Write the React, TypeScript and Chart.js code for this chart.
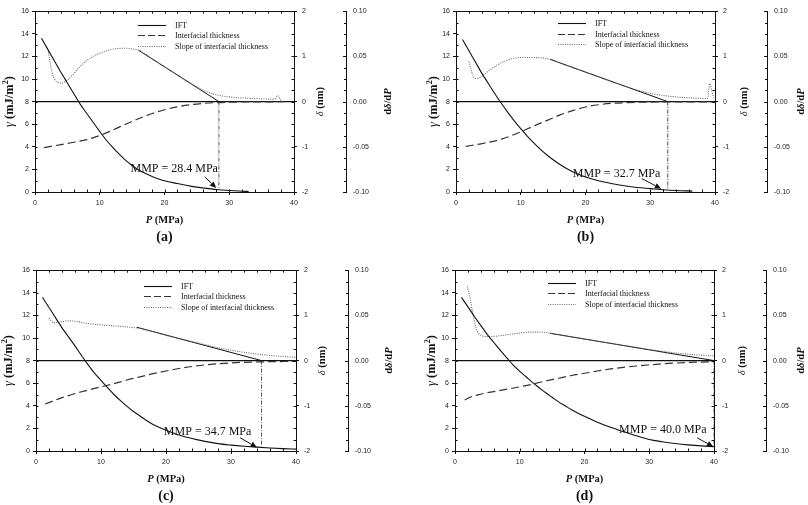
import React, { useEffect, useRef } from 'react';
import { Chart, registerables } from 'chart.js';

Chart.register(...registerables);

const SERIF = '"Liberation Serif", "Times New Roman", Times, serif';
const SANS = '"Liberation Sans", Arial, Helvetica, sans-serif';

// ---------------- data ----------------
const LEGEND_LABELS = ['IFT', 'Interfacial thickness', 'Slope of interfacial thickness'];
const PANEL_LABELS = ['(a)', '(b)', '(c)', '(d)'];
const MMP = [28.4, 32.7, 34.7, 40.0];
const MMP_DROP_END = [0.3, 0.2, 0.4, 0.4];
const ZERO_LINE_P = [0, 40];
const ZERO_LINE_DELTA = [0, 0];

// (a)
const IFT_P_A = [1, 2, 3, 4, 5, 6, 7, 8, 9, 10, 11, 12, 13, 14, 15, 16, 17, 18, 19, 20, 22, 24, 26, 28, 30, 32, 33];
const IFT_A = [13.6, 12.6, 11.6, 10.6, 9.65, 8.7, 7.75, 6.95, 6.15, 5.35, 4.6, 3.95, 3.35, 2.8, 2.35, 1.95, 1.65, 1.4, 1.18, 1.0, 0.75, 0.52, 0.36, 0.22, 0.13, 0.07, 0.05];
const THICK_P_A = [1.4, 4, 6, 8, 10, 12, 14, 16, 18, 20, 22, 24, 26, 28, 30, 34, 38.4];
const THICK_A = [-1.02, -0.95, -0.9, -0.84, -0.75, -0.63, -0.5, -0.38, -0.27, -0.18, -0.115, -0.07, -0.04, -0.022, -0.013, -0.006, -0.003];
const SLOPE_P_A = [2.06, 2.3, 2.6, 3.0, 3.6, 4.2, 5.0, 6.0, 7.0, 8.0, 9.0, 10.0, 11.0, 12.0, 13.0, 14.0, 15.0, 16.0, 18, 20, 22, 24, 26, 28, 30, 32, 34, 36, 37, 37.5, 37.9, 38.3];
const SLOPE_A = [0.0546, 0.045, 0.033, 0.025, 0.021, 0.0205, 0.024, 0.031, 0.039, 0.0455, 0.05, 0.0535, 0.056, 0.058, 0.0588, 0.059, 0.0583, 0.0568, 0.0478, 0.0386, 0.0294, 0.0205, 0.0125, 0.0075, 0.0052, 0.004, 0.0033, 0.0028, 0.0027, 0.0065, 0.002, 0];
const TANGENT_P_A = [16, 28.4];
const TANGENT_A = [0.0568, 0];

// (b)
const IFT_P_B = [1, 2, 3, 4, 5, 6, 7, 8, 9, 10, 11, 12, 13, 14, 15, 16, 17, 18, 19, 20, 22, 24, 26, 28, 30, 32, 34, 36.5];
const IFT_B = [13.5, 12.5, 11.5, 10.5, 9.6, 8.7, 7.85, 7.05, 6.3, 5.6, 4.95, 4.35, 3.8, 3.3, 2.85, 2.45, 2.1, 1.8, 1.55, 1.33, 1.0, 0.75, 0.55, 0.4, 0.3, 0.2, 0.13, 0.08];
const THICK_P_B = [1.5, 4, 7, 10, 12, 14, 16, 18, 20, 22, 24, 26, 28, 30, 34, 39.8];
const THICK_B = [-0.99, -0.93, -0.83, -0.67, -0.54, -0.42, -0.3, -0.2, -0.12, -0.07, -0.04, -0.025, -0.015, -0.01, -0.006, -0.004];
const SLOPE_P_B = [2.0, 2.3, 2.6, 2.9, 3.3, 4, 5.2, 6.5, 7.8, 9, 10.4, 12.5, 14.5, 16, 18, 20, 22, 24, 26, 28, 30, 32, 34, 36, 38, 38.8, 39.2, 39.5, 39.8];
const SLOPE_B = [0.0446, 0.036, 0.029, 0.026, 0.0255, 0.028, 0.035, 0.041, 0.0455, 0.048, 0.0488, 0.0487, 0.0468, 0.043, 0.0378, 0.0326, 0.0274, 0.0222, 0.0172, 0.0128, 0.0092, 0.0068, 0.0052, 0.0042, 0.0035, 0.0032, 0.02, 0.012, 0.004];
const TANGENT_P_B = [14.5, 32.7];
const TANGENT_B = [0.0468, 0];

// (c)
const IFT_P_C = [1, 2, 3, 4, 5, 6, 7, 8, 9, 10, 11, 12, 13, 14, 15, 16, 17, 18, 19, 20, 22, 24, 26, 28, 30, 32, 34, 36, 38, 40];
const IFT_C = [13.6, 12.7, 11.8, 10.9, 10.1, 9.3, 8.45, 7.65, 6.9, 6.25, 5.6, 5.0, 4.45, 3.95, 3.5, 3.1, 2.7, 2.35, 2.08, 1.85, 1.42, 1.1, 0.85, 0.65, 0.52, 0.42, 0.34, 0.27, 0.21, 0.17];
const THICK_P_C = [1.4, 4, 7, 10, 12, 14, 16, 18, 20, 22, 24, 26, 28, 30, 32, 34, 36, 38, 40];
const THICK_C = [-0.96, -0.82, -0.69, -0.58, -0.51, -0.43, -0.36, -0.29, -0.23, -0.175, -0.13, -0.095, -0.07, -0.05, -0.038, -0.03, -0.024, -0.02, -0.016];
const SLOPE_P_C = [2, 2.7, 3.5, 5, 6, 8, 10, 12, 14, 16, 18, 20, 22, 24, 26, 28, 30, 32, 35, 38, 40];
const SLOPE_C = [0.047, 0.042, 0.0425, 0.044, 0.0435, 0.041, 0.0395, 0.0385, 0.0372, 0.0355, 0.032, 0.028, 0.0245, 0.021, 0.0175, 0.0142, 0.0115, 0.0092, 0.0064, 0.0045, 0.0035];
const TANGENT_P_C = [15.5, 34.7];
const TANGENT_C = [0.0369, 0];

// (d)
const IFT_P_D = [1, 2, 3, 4, 5, 6, 7, 8, 9, 10, 11, 12, 13, 14, 15, 16, 17, 18, 19, 20, 22, 24, 26, 28, 30, 32, 34, 36, 38, 40];
const IFT_D = [13.6, 12.75, 11.9, 11.1, 10.3, 9.6, 8.9, 8.25, 7.6, 7.05, 6.55, 6.05, 5.6, 5.15, 4.75, 4.35, 4.0, 3.65, 3.35, 3.08, 2.55, 2.1, 1.72, 1.35, 1.02, 0.82, 0.66, 0.54, 0.45, 0.39];
const THICK_P_D = [1.5, 2.5, 3.5, 5, 7, 10, 12, 14, 16, 18, 20, 22, 24, 26, 28, 30, 32, 34, 36, 38, 40];
const THICK_D = [-0.87, -0.8, -0.76, -0.71, -0.66, -0.58, -0.52, -0.45, -0.39, -0.33, -0.28, -0.23, -0.185, -0.15, -0.12, -0.095, -0.072, -0.055, -0.042, -0.032, -0.025];
const SLOPE_P_D = [1.9, 2.3, 2.8, 3.3, 4, 5, 6, 8, 10, 12, 13.5, 14.7, 18, 22, 26, 30, 34, 37, 40];
const SLOPE_D = [0.082, 0.07, 0.05, 0.035, 0.028, 0.0265, 0.0268, 0.0285, 0.0305, 0.0315, 0.0314, 0.0302, 0.0262, 0.0215, 0.0168, 0.0123, 0.0085, 0.0065, 0.0052];
const TANGENT_P_D = [14.7, 40];
const TANGENT_D = [0.0302, 0];

// ---------------- helpers ----------------
const pts = (xs: number[], ys: number[]) => xs.map((x, i) => ({ x, y: ys[i] }));

type Seg = { t: string; f: string; dy?: number };

function drawRich(ctx: CanvasRenderingContext2D, segs: Seg[], cx: number, cy: number, rot: number) {
  ctx.save();
  ctx.translate(cx, cy);
  if (rot) ctx.rotate(rot);
  let total = 0;
  const widths = segs.map((s) => {
    ctx.font = s.f;
    const w = ctx.measureText(s.t).width;
    total += w;
    return w;
  });
  let x = -total / 2;
  ctx.textAlign = 'left';
  ctx.textBaseline = 'middle';
  ctx.fillStyle = '#111';
  segs.forEach((s, i) => {
    ctx.font = s.f;
    ctx.fillText(s.t, x, s.dy || 0);
    x += widths[i];
  });
  ctx.restore();
}

const TF = 10.5;
const YF = 12.5;
const X_TITLE: Seg[] = [
  { t: 'P', f: `italic bold ${TF}px ${SERIF}` },
  { t: ' (MPa)', f: `bold ${TF}px ${SERIF}` },
];
const Y_TITLE: Seg[] = [
  { t: 'γ', f: `italic ${YF}px ${SERIF}` },
  { t: ' (mJ/m', f: `bold ${YF}px ${SERIF}` },
  { t: '2', f: `bold 8px ${SERIF}`, dy: -4.5 },
  { t: ')', f: `bold ${YF}px ${SERIF}` },
];
const Y2_TITLE: Seg[] = [
  { t: 'δ', f: `italic ${TF}px ${SERIF}` },
  { t: ' (nm)', f: `bold ${TF}px ${SERIF}` },
];
const Y3_TITLE: Seg[] = [
  { t: 'd', f: `bold ${TF}px ${SERIF}` },
  { t: 'δ', f: `italic bold ${TF}px ${SERIF}` },
  { t: '/d', f: `bold ${TF}px ${SERIF}` },
  { t: 'P', f: `italic bold ${TF}px ${SERIF}` },
];

const decorPlugin = {
  id: 'decor',
  afterDatasetsDraw(chart: any, _args: any, o: any) {
    const { ctx, chartArea: ca, scales } = chart;
    const xs = scales.x;
    const ys = scales.y;
    const y3 = scales.y3;
    ctx.save();
    ctx.strokeStyle = '#111';
    ctx.fillStyle = '#111';
    ctx.lineWidth = 1;
    ctx.setLineDash([]);
    ctx.beginPath();
    const T = Math.round(ca.top) + 0.5;
    ctx.moveTo(ca.left, T);
    ctx.lineTo(ca.right, T);
    for (let p = 0; p <= 40; p += 2) {
      const px = Math.round(xs.getPixelForValue(p)) + 0.5;
      ctx.moveTo(px, ca.bottom);
      ctx.lineTo(px, ca.bottom - 2.5);
      ctx.moveTo(px, ca.top);
      ctx.lineTo(px, ca.top + 2.5);
    }
    for (let g = 0; g <= 16; g += 1) {
      const py = Math.round(ys.getPixelForValue(g)) + 0.5;
      const len = g % 4 === 0 ? 3 : 2;
      ctx.moveTo(ca.left, py);
      ctx.lineTo(ca.left + 2.5, py);
      ctx.moveTo(ca.right, py);
      ctx.lineTo(ca.right - 2.5, py);
      ctx.moveTo(y3.left, py);
      ctx.lineTo(y3.left - len, py);
    }
    ctx.stroke();

    // legend
    const styles = [
      { c: '#111', d: [] as number[], w: 1.1 },
      { c: '#333', d: [7, 3], w: 1.2 },
      { c: '#666', d: [1, 1.3], w: 1 },
    ];
    ctx.font = `8px ${SERIF}`;
    ctx.textBaseline = 'middle';
    ctx.textAlign = 'left';
    LEGEND_LABELS.forEach((lab, i) => {
      const ly = Math.round(ca.top + o.legendY + i * 10.5) + 0.5;
      const lx = ca.left + o.legendX;
      ctx.beginPath();
      ctx.strokeStyle = styles[i].c;
      ctx.lineWidth = styles[i].w;
      ctx.setLineDash(styles[i].d);
      ctx.moveTo(lx, ly);
      ctx.lineTo(lx + 28, ly);
      ctx.stroke();
      ctx.fillStyle = '#111';
      ctx.fillText(lab, lx + 37, ly);
    });
    ctx.setLineDash([]);

    // MMP annotation
    ctx.strokeStyle = '#111';
    ctx.fillStyle = '#111';
    ctx.lineWidth = 1;
    const fx = xs.getPixelForValue(o.arrowFrom[0]);
    const fy = ys.getPixelForValue(o.arrowFrom[1]);
    const tx = xs.getPixelForValue(o.arrowTo[0]);
    const ty = ys.getPixelForValue(o.arrowTo[1]);
    const ang = Math.atan2(ty - fy, tx - fx);
    const L = 6.5;
    const W = 2.8;
    const bx = tx - L * Math.cos(ang);
    const by = ty - L * Math.sin(ang);
    ctx.beginPath();
    ctx.moveTo(fx, fy);
    ctx.lineTo(bx, by);
    ctx.stroke();
    ctx.beginPath();
    ctx.moveTo(tx, ty);
    ctx.lineTo(bx + W * Math.sin(ang), by - W * Math.cos(ang));
    ctx.lineTo(bx - W * Math.sin(ang), by + W * Math.cos(ang));
    ctx.closePath();
    ctx.fill();
    ctx.font = `12px ${SERIF}`;
    ctx.textAlign = 'center';
    ctx.textBaseline = 'middle';
    ctx.fillText(o.mmpText, xs.getPixelForValue(o.textAt[0]), ys.getPixelForValue(o.textAt[1]));

    // axis titles
    const cy = (ca.top + ca.bottom) / 2;
    const cx = (ca.left + ca.right) / 2;
    drawRich(ctx, X_TITLE, cx, ca.bottom + 28, 0);
    drawRich(ctx, Y_TITLE, ca.left - o.gOff, cy, -Math.PI / 2);
    drawRich(ctx, Y2_TITLE, ca.right + o.dOff, cy, -Math.PI / 2);
    drawRich(ctx, Y3_TITLE, y3.left + o.d3Off, cy, -Math.PI / 2);
    drawRich(ctx, [{ t: o.letter, f: `bold 14px ${SERIF}` }], cx, ca.bottom + 45, 0);
    ctx.restore();
  },
};

type Panel = {
  left: number;
  top: number;
  height: number;
  wL: number;
  w3: number;
  xH: number;
  legendX: number;
  legendY: number;
  gOff: number;
  dOff: number;
  d3Off: number;
  idx: number;
  ift: { x: number; y: number }[];
  thick: { x: number; y: number }[];
  slope: { x: number; y: number }[];
  tangent: { x: number; y: number }[];
  arrowFrom: number[];
  arrowTo: number[];
  textAt: number[];
};

const PANELS: Panel[] = [
  {
    left: 0, top: 0, height: 259, wL: 35, w3: 58, xH: 67, legendX: 103, legendY: 13.7, gOff: 25, dOff: 26, d3Off: 42, idx: 0,
    ift: pts(IFT_P_A, IFT_A), thick: pts(THICK_P_A, THICK_A), slope: pts(SLOPE_P_A, SLOPE_A), tangent: pts(TANGENT_P_A, TANGENT_A),
    arrowFrom: [26.2, 1.35], arrowTo: [28.0, 0.35], textAt: [21.5, 2.04],
  },
  {
    left: 404, top: 0, height: 259, wL: 52, w3: 41, xH: 67, legendX: 102, legendY: 12, gOff: 22, dOff: 29, d3Off: 34, idx: 1,
    ift: pts(IFT_P_B, IFT_B), thick: pts(THICK_P_B, THICK_B), slope: pts(SLOPE_P_B, SLOPE_B), tangent: pts(TANGENT_P_B, TANGENT_B),
    arrowFrom: [28.7, 1.19], arrowTo: [31.7, 0.28], textAt: [24.8, 1.64],
  },
  {
    left: 0, top: 259, height: 246, wL: 36, w3: 56, xH: 54, legendX: 108, legendY: 15.7, gOff: 27, dOff: 26, d3Off: 41, idx: 2,
    ift: pts(IFT_P_C, IFT_C), thick: pts(THICK_P_C, THICK_C), slope: pts(SLOPE_P_C, SLOPE_C), tangent: pts(TANGENT_P_C, TANGENT_C),
    arrowFrom: [31.4, 1.17], arrowTo: [34.0, 0.31], textAt: [26.4, 1.7],
  },
  {
    left: 404, top: 259, height: 246, wL: 51, w3: 42, xH: 54, legendX: 93, legendY: 12.3, gOff: 23, dOff: 28, d3Off: 35, idx: 3,
    ift: pts(IFT_P_D, IFT_D), thick: pts(THICK_P_D, THICK_D), slope: pts(SLOPE_P_D, SLOPE_D), tangent: pts(TANGENT_P_D, TANGENT_D),
    arrowFrom: [37.4, 1.17], arrowTo: [39.9, 0.37], textAt: [32.1, 1.85],
  },
];

const tickFont = { family: SANS, size: 7 };

function makeConfig(p: Panel): any {
  const mmp = MMP[p.idx];
  const axisCommon = (extra: any) => ({
    border: { display: true, color: '#111', width: 1 },
    grid: { display: true, drawOnChartArea: false, drawTicks: true, tickLength: 3, color: '#111' },
    ...extra,
  });
  return {
    type: 'line',
    data: {
      datasets: [
        { label: LEGEND_LABELS[0], data: p.ift, yAxisID: 'y', borderColor: '#111', borderWidth: 1.1, pointRadius: 0, cubicInterpolationMode: 'monotone' },
        { label: LEGEND_LABELS[1], data: p.thick, yAxisID: 'y2', borderColor: '#333', borderWidth: 1.2, borderDash: [8, 4], pointRadius: 0, cubicInterpolationMode: 'monotone' },
        { label: LEGEND_LABELS[2], data: p.slope, yAxisID: 'y3', borderColor: '#666', borderWidth: 1.1, borderDash: [1, 1.3], pointRadius: 0, cubicInterpolationMode: 'monotone' },
        { label: 'tangent', data: p.tangent, yAxisID: 'y3', borderColor: '#111', borderWidth: 1, pointRadius: 0 },
        { label: 'zero', data: pts(ZERO_LINE_P, ZERO_LINE_DELTA), yAxisID: 'y2', borderColor: '#111', borderWidth: 1.1, pointRadius: 0 },
        { label: 'MMP', data: pts([mmp, mmp], [8, MMP_DROP_END[p.idx]]), yAxisID: 'y', borderColor: '#555', borderWidth: 1, borderDash: [4, 1.5, 1, 1.5], pointRadius: 0 },
      ],
    },
    options: {
      responsive: false,
      animation: false,
      devicePixelRatio: 1,
      layout: { padding: { top: 4, left: 0, right: 0, bottom: 0 } },
      plugins: {
        legend: { display: false },
        tooltip: { enabled: false },
        decor: {
          legendX: p.legendX, legendY: p.legendY, gOff: p.gOff, dOff: p.dOff, d3Off: p.d3Off,
          arrowFrom: p.arrowFrom, arrowTo: p.arrowTo, textAt: p.textAt,
          mmpText: `MMP = ${mmp.toFixed(1)} MPa`, letter: PANEL_LABELS[p.idx],
        },
      },
      scales: {
        x: axisCommon({
          type: 'linear', min: 0, max: 40,
          ticks: { stepSize: 10, font: tickFont, color: '#222', padding: 4, maxRotation: 0 },
          afterFit: (s: any) => { s.height = p.xH; },
        }),
        y: axisCommon({
          type: 'linear', position: 'left', min: 0, max: 16,
          ticks: { stepSize: 2, font: tickFont, color: '#222', padding: 3 },
          afterFit: (s: any) => { s.width = p.wL; },
        }),
        y2: axisCommon({
          type: 'linear', position: 'right', min: -2, max: 2, weight: 1,
          ticks: { stepSize: 1, font: tickFont, color: '#222', padding: 5 },
          afterFit: (s: any) => { s.width = 52; },
        }),
        y3: {
          type: 'linear', position: 'right', min: -0.1, max: 0.1, weight: 2,
          border: { display: true, color: '#111', width: 1 },
          grid: { display: false, drawOnChartArea: false, drawTicks: false },
          ticks: {
            stepSize: 0.05, font: tickFont, color: '#222', padding: 7,
            callback: (v: number) => (Math.abs(v) < 1e-9 ? '0.00' : v.toFixed(2)),
          },
          afterFit: (s: any) => { s.width = p.w3; },
        },
      },
    },
    plugins: [decorPlugin],
  };
}

function PanelChart({ panel }: { panel: Panel }) {
  const ref = useRef<HTMLCanvasElement>(null);
  useEffect(() => {
    const chart = new Chart(ref.current as HTMLCanvasElement, makeConfig(panel));
    return () => chart.destroy();
  }, [panel]);
  return (
    <canvas
      ref={ref}
      width={404}
      height={panel.height}
      style={{ position: 'absolute', left: panel.left, top: panel.top, width: 404, height: panel.height }}
    />
  );
}

export default function App() {
  return (
    <div style={{ position: 'fixed', left: 0, top: 0, width: 808, height: 505, background: '#fff', overflow: 'hidden' }}>
      {PANELS.map((p) => (
        <PanelChart key={p.idx} panel={p} />
      ))}
    </div>
  );
}
